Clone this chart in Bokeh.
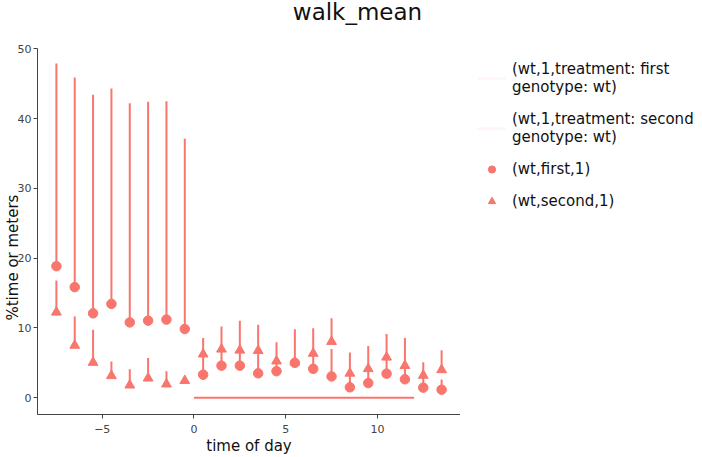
from bokeh.plotting import figure
from bokeh.models import Range1d, Legend, LegendItem, FixedTicker, Label
from bokeh.layouts import row
from bokeh.embed import file_html
from bokeh.resources import INLINE

# ---- data ----
hours = [-7.5, -6.5, -5.5, -4.5, -3.5, -2.5, -1.5, -0.5, 0.5, 1.5, 2.5,
         3.5, 4.5, 5.5, 6.5, 7.5, 8.5, 9.5, 10.5, 11.5, 12.5, 13.5]
first_mean = [18.85, 15.85, 12.1, 13.45, 10.8, 11.05, 11.2, 9.85, 3.3, 4.6, 4.6,
              3.5, 3.8, 5.0, 4.15, 3.05, 1.5, 2.1, 3.45, 2.65, 1.45, 1.15]
first_upper = [47.9, 45.9, 43.4, 44.3, 42.2, 42.4, 42.5, 37.1, 6.0, 6.6, 6.5,
               6.4, 5.0, 5.5, 6.0, 7.0, 3.5, 4.0, 5.5, 4.5, 3.0, 2.6]
second_mean = [12.25, 7.5, 5.05, 3.15, 1.8, 2.8, 1.95, 2.45, 6.25, 6.95, 6.8,
               6.75, 5.25, 5.1, 6.35, 8.05, 3.5, 4.15, 5.8, 4.6, 3.2, 4.0]
second_upper = [16.8, 11.65, 9.75, 5.2, 4.1, 5.7, 3.8, 2.9, 8.55, 10.2, 11.05,
                10.45, 7.95, 9.8, 9.95, 11.4, 6.5, 7.4, 9.15, 8.55, 5.1, 6.8]
treat_x = [0, 12]
treat_y = [0, 0]
x_ticks = [-5, 0, 5, 10]
y_ticks = [0, 10, 20, 30, 40, 50]
title_text = "walk_mean"
x_label = "time of day"
y_label = "%time or meters"
legend_labels = ["(wt,1,treatment: first\ngenotype: wt)",
                 "(wt,1,treatment: second\ngenotype: wt)",
                 "(wt,first,1)",
                 "(wt,second,1)"]

COLOR = "#F8766D"
FONT = "DejaVu Sans"
Y_MIN, Y_MAX = -2.4, 56.92

p = figure(width=460, height=457, output_backend="svg", toolbar_location=None,
           x_range=Range1d(-8.53, 14.53), y_range=Range1d(Y_MIN, Y_MAX),
           min_border_left=0, min_border_right=0, min_border_top=0,
           min_border_bottom=0)
p.outline_line_color = None
p.xgrid.visible = False
p.ygrid.visible = False

# title drawn as a label above the data area
p.add_layout(Label(x=320, y=403, x_units="screen", y_units="screen",
                   text=title_text, text_font=FONT, text_font_size="23px",
                   text_color="#111111", text_align="center",
                   text_baseline="alphabetic"))

# treatment line
p.line(treat_x, treat_y, line_color=COLOR, line_width=2.2)

# error bars and means
p.segment(x0=hours, y0=first_mean, x1=hours, y1=first_upper,
          line_color=COLOR, line_width=2)
p.scatter(hours, first_mean, marker="circle", size=9.5, fill_color=COLOR,
          line_color=COLOR)
p.segment(x0=hours, y0=second_mean, x1=hours, y1=second_upper,
          line_color=COLOR, line_width=2)
p.scatter(hours, second_mean, marker="triangle", size=9.8, fill_color=COLOR,
          line_color=COLOR)

for ax in (p.xaxis[0], p.yaxis[0]):
    ax.axis_line_color = "#444444"
    ax.major_tick_line_color = "#444444"
    ax.major_tick_out = 4
    ax.major_tick_in = 0
    ax.minor_tick_line_color = None
    ax.major_label_text_font = FONT
    ax.major_label_text_font_size = "11px"
    ax.major_label_text_color = "#444444"
    ax.axis_label_text_font = FONT
    ax.axis_label_text_font_style = "normal"
    ax.axis_label_text_color = "#111111"
    ax.axis_label_text_font_size = "15px"

p.xaxis.ticker = FixedTicker(ticks=x_ticks)
p.yaxis.ticker = FixedTicker(ticks=y_ticks)
p.yaxis.bounds = (Y_MIN, 50)
p.xaxis.axis_label = x_label
p.xaxis.major_label_standoff = 6
p.xaxis.axis_label_standoff = 1
# trailing spaces shift the rotated label down to sit where the reference has it
p.yaxis.axis_label = y_label + " " * 21
p.yaxis.major_label_standoff = 2
p.yaxis.axis_label_standoff = -7

# legend panel (separate figure holding only the legend)
q = figure(width=242, height=457, output_backend="svg", toolbar_location=None,
           x_range=Range1d(0, 1), y_range=Range1d(0, 1),
           x_axis_type=None, y_axis_type=None,
           min_border_left=0, min_border_right=0, min_border_top=0,
           min_border_bottom=0)
q.outline_line_color = None
q.grid.visible = False
g1 = q.line([5, 6], [5, 5], line_color=COLOR, line_alpha=0.08, line_width=2)
g2 = q.line([5, 6], [5, 5], line_color=COLOR, line_alpha=0.08, line_width=2)
g3 = q.scatter([5], [5], marker="circle", size=9.5, fill_color=COLOR,
               line_color=COLOR)
g4 = q.scatter([5], [5], marker="triangle", size=9.8, fill_color=COLOR,
               line_color=COLOR)

legend = Legend(items=[LegendItem(label=legend_labels[0], renderers=[g1]),
                       LegendItem(label=legend_labels[1], renderers=[g2]),
                       LegendItem(label=legend_labels[2], renderers=[g3]),
                       LegendItem(label=legend_labels[3], renderers=[g4])],
                location=(17, 204))
legend.margin = 0
legend.padding = 0
legend.spacing = 14
legend.glyph_width = 29
legend.glyph_height = 18
legend.label_standoff = 6
legend.label_text_font = FONT
legend.label_text_font_size = "15px"
legend.label_text_color = "#111111"
legend.border_line_color = None
legend.background_fill_alpha = 0
q.add_layout(legend, "center")

layout = row(p, q)
open("out.html", "w").write(file_html(layout, INLINE))
